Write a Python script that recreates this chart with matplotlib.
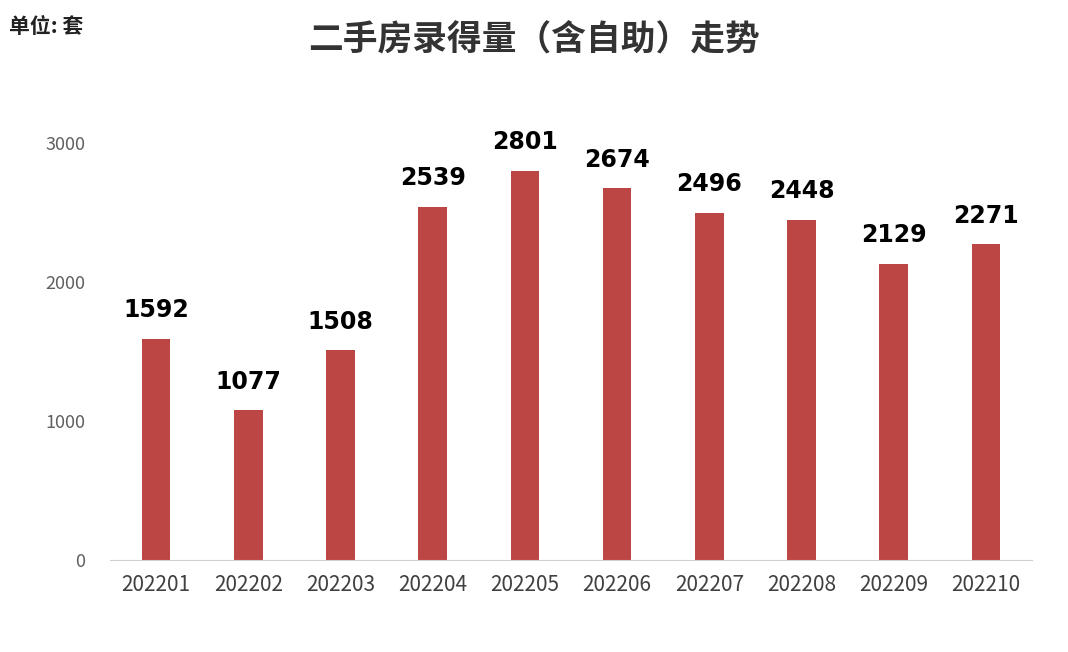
import matplotlib
matplotlib.use("Agg")
import matplotlib.pyplot as plt

plt.rcParams['font.family'] = ['Noto Sans CJK SC', 'DejaVu Sans']

categories = ["202201", "202202", "202203", "202204", "202205",
              "202206", "202207", "202208", "202209", "202210"]
values = [1592, 1077, 1508, 2539, 2801, 2674, 2496, 2448, 2129, 2271]
yticks = [0, 1000, 2000, 3000]

fig = plt.figure(figsize=(10.68, 6.52), dpi=100)
ax = fig.add_axes([110/1068, 92/652, 922/1068, 417/652])
x = range(len(categories))
ax.bar(x, values, width=0.31, color="#BC4643")
for i, v in zip(x, values):
    ax.text(i, v + 120, str(v), ha="center", va="bottom", fontsize=17,
            fontweight="bold", color="black", family=["DejaVu Sans"])
ax.set_xlim(-0.5, len(categories) - 0.5)
ax.set_ylim(0, 3000)
ax.set_xticks(list(x))
ax.set_xticklabels(categories, fontsize=15, color="#404040")
ax.set_yticks(yticks)
ax.set_yticklabels([str(t) for t in yticks], fontsize=13, color="#606060")
for s in ["top", "right", "left"]:
    ax.spines[s].set_visible(False)
ax.spines["bottom"].set_color("#d0d0d0")
ax.tick_params(axis="both", length=0)
ax.tick_params(axis="x", pad=10)
ax.tick_params(axis="y", pad=18)

fig.text(0.5, 0.94, "二手房录得量（含自助）走势", ha="center", va="center",
         fontsize=25, fontweight="bold", color="#333333")
fig.text(0.008, 0.96, "单位: 套", ha="left", va="center",
         fontsize=15, fontweight="bold", color="#222222")
fig.savefig("out.png", dpi=100, facecolor="white")
